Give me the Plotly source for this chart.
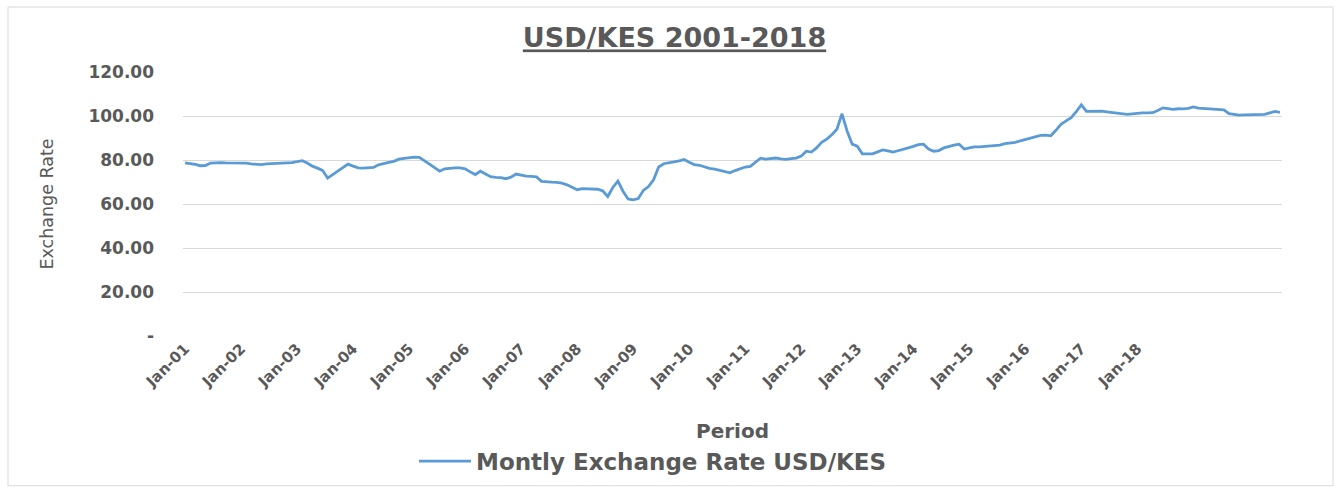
import plotly.graph_objects as go

# Monthly USD/KES exchange rate, Jan-2001 .. Dec-2018
rate_2001 = [78.7, 78.4, 78.0, 77.4, 77.5, 78.6, 78.8, 78.8, 78.7, 78.7, 78.8, 78.8]
rate_2002 = [78.6, 78.2, 77.9, 77.9, 78.2, 78.4, 78.6, 78.6, 78.7, 78.8, 79.2, 79.7]
rate_2003 = [78.6, 77.2, 76.3, 75.3, 71.8, 73.4, 74.8, 76.2, 78.1, 77.2, 76.4, 76.3]
rate_2004 = [76.3, 76.6, 77.8, 78.5, 78.9, 79.4, 80.4, 80.7, 81.0, 81.3, 81.2, 79.8]
rate_2005 = [78.1, 76.5, 74.9, 76.0, 76.3, 76.4, 76.4, 76.0, 74.6, 73.4, 74.9, 73.6]
rate_2006 = [72.4, 72.1, 72.0, 71.5, 72.2, 73.6, 73.0, 72.7, 72.6, 72.3, 70.3, 70.0]
rate_2007 = [69.9, 69.8, 69.5, 68.7, 67.7, 66.5, 67.0, 66.9, 66.8, 66.7, 66.0, 63.4]
rate_2008 = [67.5, 70.4, 65.8, 62.3, 61.9, 62.5, 66.2, 67.9, 71.0, 76.8, 78.3, 78.6]
rate_2009 = [79.1, 79.6, 80.2, 79.0, 77.9, 77.6, 76.8, 76.2, 75.8, 75.3, 74.6, 74.2]
rate_2010 = [75.2, 76.1, 76.8, 77.1, 79.0, 80.8, 80.4, 80.6, 80.9, 80.5, 80.3, 80.6]
rate_2011 = [80.9, 81.8, 84.0, 83.6, 85.5, 88.0, 89.5, 91.5, 94.0, 101.0, 93.2, 87.2]
rate_2012 = [86.3, 82.8, 82.9, 82.8, 83.7, 84.6, 84.1, 83.6, 84.2, 85.0, 85.5, 86.2]
rate_2013 = [87.0, 87.2, 85.0, 84.0, 84.3, 85.5, 86.3, 86.8, 87.2, 85.0, 85.5, 86.0]
rate_2014 = [86.0, 86.2, 86.3, 86.6, 86.8, 87.4, 87.7, 88.0, 88.7, 89.3, 89.8, 90.3]
rate_2015 = [91.2, 91.3, 91.0, 93.5, 96.2, 97.8, 99.2, 102.0, 105.1, 102.1, 102.2, 102.1]
rate_2016 = [102.2, 101.9, 101.6, 101.3, 100.9, 100.7, 101.0, 101.3, 101.4, 101.4, 101.5, 102.5]
rate_2017 = [103.7, 103.4, 103.0, 103.3, 103.2, 103.5, 104.1, 103.6, 103.4, 103.2, 103.3, 103.0]
rate_2018 = [102.8, 101.1, 100.8, 100.4, 100.5, 100.6, 100.4, 100.5, 100.7, 101.4, 102.1, 101.7]

rates = (rate_2001 + rate_2002 + rate_2003 + rate_2004 + rate_2005 + rate_2006 +
         rate_2007 + rate_2008 + rate_2009 + rate_2010 + rate_2011 + rate_2012 +
         rate_2013 + rate_2014 + rate_2015 + rate_2016 + rate_2017 + rate_2018)
periods = list(range(len(rates)))

# Category axis labels (shown every 11th category as in the original)
x_tick_labels = ["Jan-01", "Jan-02", "Jan-03", "Jan-04", "Jan-05", "Jan-06",
                 "Jan-07", "Jan-08", "Jan-09", "Jan-10", "Jan-11", "Jan-12",
                 "Jan-13", "Jan-14", "Jan-15", "Jan-16", "Jan-17", "Jan-18"]
x_tick_step = 11
x_tick_vals = [i * x_tick_step for i in range(len(x_tick_labels))]

y_tick_vals = [0, 20, 40, 60, 80, 100, 120]
y_tick_text = ["-", "20.00", "40.00", "60.00", "80.00", "100.00", "120.00"]

TEXT = "#595959"
FONT = "DejaVu Sans"

fig = go.Figure()
fig.add_trace(go.Scatter(
    x=periods, y=rates, mode="lines",
    name="Montly Exchange Rate USD/KES",
    line=dict(color="#5B9BD5", width=2.8),
))

W, H = 1341, 494
L, R, T, B = 183, 59, 72, 154
pw = W - L - R
ph = H - T - B

fig.update_layout(
    width=W, height=H,
    margin=dict(l=L, r=R, t=T, b=B),
    paper_bgcolor="white", plot_bgcolor="white",
    font=dict(family=FONT, color=TEXT),
    title=dict(text="<b><u>USD/KES 2001-2018</u></b>",
               font=dict(size=27, color=TEXT, family=FONT),
               x=0.503, xref="container", xanchor="center",
               y=1 - 38 / H, yref="container", yanchor="middle"),
    showlegend=True,
    legend=dict(orientation="h", x=(653 - L) / pw, xanchor="center",
                y=-(467 - (T + ph)) / ph, yanchor="middle",
                font=dict(size=23, color=TEXT, family=FONT, weight="bold"),
                itemwidth=52, bgcolor="rgba(0,0,0,0)"),
    shapes=[dict(type="rect", xref="paper", yref="paper",
                 x0=(8 - L) / pw, x1=(1333 - L) / pw,
                 y0=-(492 - T - ph) / ph, y1=1 + (T - 6) / ph,
                 line=dict(color="#D9D9D9", width=1), layer="below")],
)

fig.update_xaxes(
    range=[-0.4, len(rates) - 0.6],
    tickvals=x_tick_vals, ticktext=x_tick_labels, tickangle=-45,
    tickfont=dict(size=15, color=TEXT, family=FONT, weight="bold"),
    showgrid=False, zeroline=False, showline=False, ticks="",
    title=dict(text="<b>Period</b>", font=dict(size=20, color=TEXT, family=FONT),
               standoff=33),
)
fig.update_yaxes(
    range=[0, 120],
    tickvals=y_tick_vals, ticktext=y_tick_text,
    tickfont=dict(size=17, color=TEXT, family=FONT, weight="bold"),
    showgrid=True, gridcolor="#D9D9D9", gridwidth=1,
    zeroline=False, showline=False, ticks="", ticklabelstandoff=28,
    title=dict(text="Exchange Rate", font=dict(size=17.5, color=TEXT, family=FONT),
               standoff=30),
)

fig.write_html("out.html")
